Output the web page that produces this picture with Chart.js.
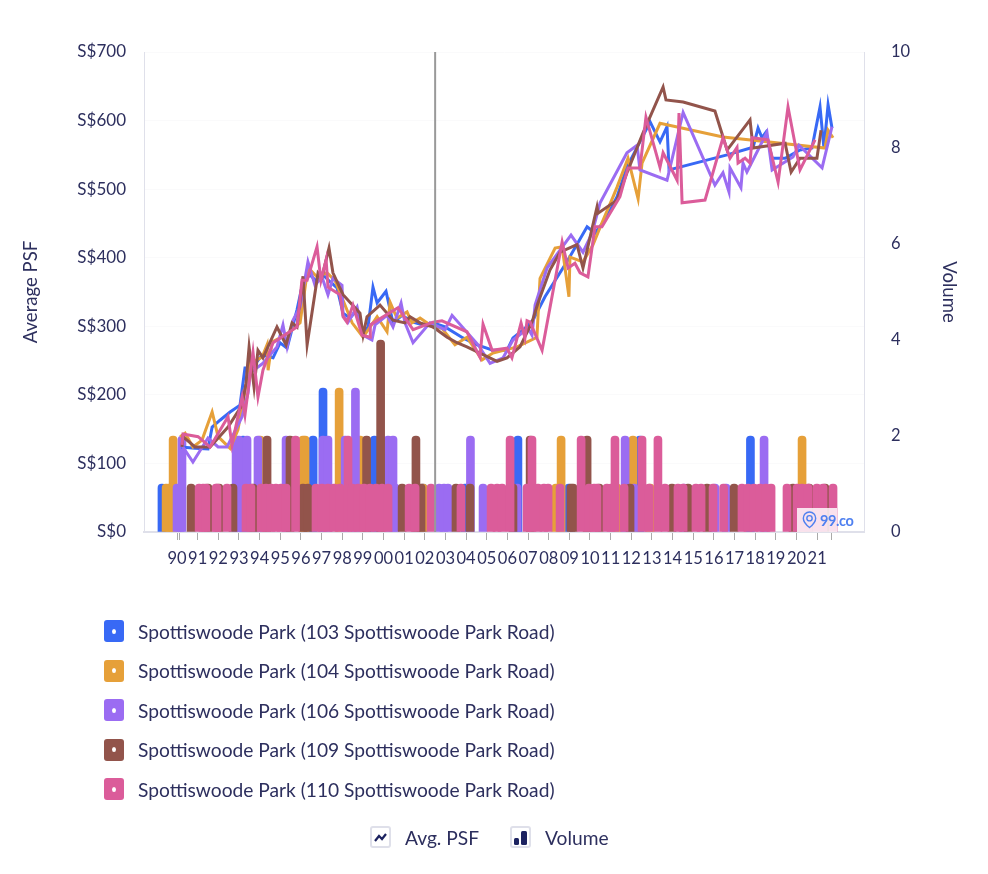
<!DOCTYPE html>
<html>
<head>
<meta charset="utf-8">
<title>Spottiswoode Park</title>
<script src="https://cdn.jsdelivr.net/npm/chart.js@4"></script>
<style>
  html, body { margin: 0; padding: 0; background: #fff; }
  body { width: 988px; height: 874px; position: relative; overflow: hidden; font-family: Lato, sans-serif; color: #2d2f5e; }
  canvas { position: absolute; left: 0; top: 0; }
  .row { position: absolute; left: 104px; height: 22px; display: flex; align-items: center; font-size: 19.2px; white-space: nowrap; }
  .swatch { width: 20px; height: 22px; border-radius: 3px; margin-right: 14px; display: flex; align-items: center; justify-content: center; }
  .swatch i { width: 4px; height: 5px; border-radius: 50%; background: #fff; }
  .toggle { position: absolute; top: 826px; height: 22px; display: flex; align-items: center; font-size: 19.2px; }
  .toggle svg { margin-right: 14px; }
  #mark { position: absolute; left: 797px; top: 508px; width: 40px; height: 24px; background: rgba(255,255,255,.82); display: flex; align-items: center; color: #4f80f0; font-weight: 700; font-size: 14.5px; letter-spacing: -.4px; white-space: nowrap; }
  #mark svg { flex-shrink: 0; margin: 0 3px 0 5px; }
</style>
</head>
<body>
<canvas id="myChart" width="988" height="874"></canvas>
<div id="legend"></div>
<div class="toggle" style="left:370px">
  <svg width="21" height="22" viewBox="0 0 21 22"><rect x="1" y="1" width="19" height="20" rx="2" fill="#fff" stroke="#dfe0ea" stroke-width="2"/><path d="M5 15l4-5 3 3 4-5" fill="none" stroke="#1c2260" stroke-width="2.200"/></svg>
  <span>Avg. PSF</span>
</div>
<div class="toggle" style="left:510px">
  <svg width="21" height="22" viewBox="0 0 21 22"><rect x="1" y="1" width="19" height="20" rx="2" fill="#fff" stroke="#dfe0ea" stroke-width="2"/><rect x="4" y="12" width="5" height="7" rx="1.500" fill="#1c2260"/><rect x="11" y="5" width="6" height="14" rx="1.500" fill="#1c2260"/></svg>
  <span>Volume</span>
</div>
<div id="mark">
  <svg width="15" height="18" viewBox="0 0 17 20"><path d="M8.500 18.500C4 15 1.500 11.500 1.500 8a7 7 0 0 1 14 0c0 3.500-2.500 7-7 10.500z" fill="none" stroke="#4f80f0" stroke-width="1.600"/><circle cx="8.500" cy="8" r="3" fill="none" stroke="#4f80f0" stroke-width="1.600"/></svg>
  <span>99.co</span>
</div>
<script>
const seriesNames = [
   'Spottiswoode Park (103 Spottiswoode Park Road)',
   'Spottiswoode Park (104 Spottiswoode Park Road)',
   'Spottiswoode Park (106 Spottiswoode Park Road)',
   'Spottiswoode Park (109 Spottiswoode Park Road)',
   'Spottiswoode Park (110 Spottiswoode Park Road)'
];

// ticks of the time axis, the two without a label are extra marks the site draws
const tickYears = [1990, 1990.1, 1991, 1992, 1993, 1994, 1995, 1996, 1997, 1998, 1999, 2000, 2001, 2002, 2003, 2004, 2005, 2006, 2007, 2008, 2009, 2010, 2011, 2012, 2013, 2014, 2015, 2016, 2017, 2018, 2019, 2020, 2021, 2021.7];
const tickLabels = ['90', '', '91', '92', '93', '94', '95', '96', '97', '98', '99', '00', '01', '02', '03', '04', '05', '06', '07', '08', '09', '10', '11', '12', '13', '14', '15', '16', '17', '18', '19', '20', '21', ''];

const hoverYear = 2002.5;

// average psf per sale date
const years103 = [1990.19, 1990.87, 1991.50, 1991.70, 1992.08, 1992.57, 1993.05, 1993.29, 1993.63, 1994.12, 1994.65, 1994.99, 1995.33, 1995.81, 1996.10, 1996.44, 1996.78, 1997.07, 1997.41, 1997.75, 1998.04, 1998.38, 1998.72, 1999.01, 1999.25, 1999.49, 1999.69, 2000.12, 2000.46, 2000.90, 2001.43, 2001.91, 2002.40, 2002.98, 2003.85, 2004.53, 2005.30, 2005.98, 2006.27, 2006.85, 2007.24, 2007.82, 2008.94, 2009.86, 2010.24, 2010.73, 2011.31, 2011.79, 2012.28, 2012.91, 2013.39, 2013.73, 2013.83, 2016.64, 2017.90, 2018.14, 2018.33, 2018.52, 2018.82, 2019.45, 2020.17, 2020.75, 2021.14, 2021.33, 2021.53, 2021.72];
const psf103 = [124, 122, 121, 153, 163, 175, 185, 239, 239, 258, 254, 276, 268, 324, 365, 375, 365, 375, 365, 356, 319, 312, 324, 290, 299, 357, 334, 351, 305, 316, 306, 302, 305, 299, 283, 273, 265, 265, 283, 297, 309, 343, 397, 445, 436, 455, 489, 532, 561, 598, 569, 591, 528, 550, 561, 589, 575, 583, 545, 545, 557, 560, 620, 560, 623, 589];

const years104 = [1990.15, 1990.39, 1990.77, 1991.21, 1991.70, 1991.99, 1992.57, 1992.95, 1993.39, 1993.54, 1994.12, 1994.36, 1994.41, 1994.60, 1994.99, 1995.47, 1995.96, 1996.34, 1996.78, 1997.26, 1997.65, 1998.04, 1998.48, 1999.01, 1999.69, 2000.17, 2000.32, 2000.65, 2001.14, 2001.38, 2001.77, 2002.40, 2002.83, 2003.46, 2004.04, 2004.77, 2005.30, 2006.47, 2007.43, 2007.58, 2008.31, 2008.65, 2008.98, 2009.03, 2009.66, 2010.15, 2010.58, 2011.12, 2011.31, 2011.84, 2012.33, 2012.52, 2013.39, 2016.44, 2021.38, 2021.53, 2021.77];
const psf104 = [139, 144, 124, 134, 175, 139, 122, 149, 222, 246, 255, 273, 236, 277, 283, 292, 305, 386, 372, 378, 367, 338, 305, 284, 314, 292, 335, 312, 321, 305, 312, 299, 297, 273, 284, 251, 261, 270, 284, 370, 414, 416, 343, 401, 394, 419, 451, 489, 503, 545, 486, 538, 596, 576, 560, 586, 575];

const years106 = [1990.15, 1990.77, 1991.50, 1991.99, 1992.42, 1993.15, 1993.44, 1993.54, 1994.16, 1994.84, 1995.13, 1995.33, 1995.62, 1995.96, 1996.34, 1996.68, 1997.02, 1997.31, 1997.55, 1997.99, 1998.04, 1998.28, 1998.72, 1999.01, 1999.44, 1999.59, 2000.17, 2000.46, 2000.85, 2001.04, 2001.43, 2002.25, 2002.98, 2003.32, 2004.58, 2005.16, 2005.79, 2006.27, 2007.00, 2007.19, 2007.34, 2007.92, 2008.45, 2009.08, 2009.66, 2010.10, 2010.49, 2011.79, 2012.28, 2012.42, 2013.73, 2014.51, 2016.05, 2016.44, 2016.73, 2016.78, 2017.31, 2017.41, 2017.60, 2018.57, 2018.82, 2019.83, 2020.12, 2021.24, 2021.72];
const psf106 = [130, 102, 137, 124, 124, 168, 203, 232, 246, 270, 302, 270, 309, 328, 394, 360, 372, 346, 370, 360, 316, 306, 328, 287, 280, 302, 316, 299, 334, 305, 276, 305, 295, 316, 273, 246, 254, 280, 297, 287, 331, 385, 407, 433, 408, 436, 480, 553, 564, 528, 513, 612, 506, 524, 496, 531, 502, 538, 525, 583, 528, 547, 564, 531, 591];

const years109 = [1990.24, 1990.29, 1990.87, 1991.60, 1992.47, 1993.15, 1993.34, 1993.49, 1993.73, 1993.92, 1994.16, 1994.84, 1995.28, 1995.57, 1995.81, 1996.10, 1996.30, 1996.83, 1997.02, 1997.36, 1997.55, 1998.04, 1998.86, 1999.01, 1999.20, 1999.83, 2000.46, 2001.04, 2001.28, 2001.77, 2002.40, 2003.08, 2003.56, 2004.04, 2004.67, 2005.50, 2005.98, 2006.61, 2007.19, 2007.48, 2008.06, 2008.55, 2009.37, 2009.66, 2010.34, 2010.39, 2011.31, 2011.79, 2012.57, 2013.54, 2013.68, 2014.51, 2016.05, 2016.64, 2017.75, 2017.90, 2019.45, 2019.74, 2020.17, 2020.99, 2021.19];
const psf109 = [124, 139, 124, 124, 153, 185, 217, 270, 211, 265, 254, 299, 273, 305, 299, 373, 273, 378, 372, 414, 378, 346, 319, 287, 314, 331, 309, 305, 314, 305, 299, 284, 276, 270, 261, 249, 254, 270, 306, 334, 382, 408, 419, 385, 474, 465, 484, 524, 582, 649, 630, 627, 614, 557, 601, 560, 567, 525, 545, 545, 586];

const years110 = [1990.24, 1990.29, 1991.02, 1991.60, 1992.47, 1992.66, 1993.15, 1993.29, 1993.68, 1993.92, 1994.16, 1994.65, 1995.81, 1996.05, 1996.30, 1996.78, 1996.97, 1997.22, 1997.31, 1997.89, 1998.04, 1998.23, 1998.52, 1998.96, 1999.35, 1999.36, 1999.98, 2000.70, 2001.43, 2002.40, 2002.83, 2004.04, 2004.67, 2004.82, 2005.26, 2005.98, 2006.22, 2006.66, 2006.85, 2006.95, 2007.10, 2007.68, 2008.65, 2008.94, 2009.27, 2009.52, 2009.90, 2010.24, 2010.58, 2011.45, 2011.84, 2012.42, 2012.71, 2013.39, 2013.54, 2014.22, 2014.31, 2014.46, 2015.57, 2016.44, 2016.78, 2017.12, 2017.17, 2017.51, 2017.75, 2017.85, 2018.62, 2019.11, 2019.59, 2020.17, 2020.90];
const psf110 = [127, 143, 139, 124, 168, 127, 197, 171, 262, 197, 236, 276, 299, 367, 367, 416, 367, 397, 357, 346, 314, 306, 331, 287, 284, 302, 314, 327, 295, 306, 308, 292, 255, 303, 265, 268, 254, 305, 283, 308, 306, 265, 423, 385, 392, 378, 372, 445, 445, 489, 531, 531, 605, 532, 553, 513, 611, 480, 484, 575, 545, 561, 538, 545, 538, 575, 572, 510, 620, 528, 572];

// units sold per sale date
const barYears103 = [1989.27, 1993.20, 1996.59, 1997.07, 1999.56, 2001.91, 2003.95, 2006.51, 2008.98, 2012.42, 2017.77];
const volume103 = [1, 2, 2, 3, 2, 1, 1, 2, 1, 2, 2];

const barYears104 = [1989.47, 1989.61, 1989.81, 1994.02, 1996.10, 1996.20, 1997.85, 1998.86, 2001.91, 2008.35, 2008.60, 2011.31, 2012.08, 2012.91, 2020.27];
const volume104 = [1, 1, 2, 2, 2, 2, 3, 2, 1, 1, 2, 1, 2, 1, 2];

const barYears106 = [1990.00, 1990.15, 1990.24, 1992.86, 1993.00, 1993.39, 1993.92, 1995.28, 1997.07, 1997.31, 1998.14, 1998.64, 2000.22, 2000.46, 2000.56, 2002.69, 2002.93, 2003.12, 2004.21, 2004.82, 2006.47, 2011.70, 2012.13, 2014.55, 2016.05, 2016.59, 2018.43];
const volume106 = [1, 1, 2, 2, 2, 2, 2, 2, 2, 2, 2, 3, 2, 2, 1, 1, 1, 1, 2, 1, 1, 2, 1, 1, 1, 1, 2];

const barYears109 = [1990.68, 1991.50, 1992.03, 1992.71, 1993.68, 1994.36, 1995.47, 1996.10, 1996.34, 1999.18, 1999.86, 2000.90, 2001.57, 2001.82, 2003.51, 2004.19, 2006.27, 2007.10, 2009.08, 2009.18, 2009.86, 2010.44, 2011.94, 2013.97, 2014.75, 2015.67, 2016.98, 2019.83, 2020.61, 2021.38];
const volume109 = [1, 1, 1, 1, 1, 2, 2, 1, 1, 2, 4, 1, 2, 1, 1, 1, 1, 2, 1, 1, 2, 1, 1, 1, 1, 1, 1, 1, 1, 1];

const barYears110 = [1991.07, 1991.26, 1991.40, 1991.89, 1991.94, 1992.42, 1993.34, 1993.58, 1994.07, 1994.31, 1994.55, 1994.79, 1995.04, 1995.28, 1995.74, 1996.73, 1997.02, 1997.31, 1997.60, 1997.89, 1998.28, 1998.48, 1998.77, 1999.06, 1999.35, 1999.64, 1999.93, 2000.22, 2001.24, 2001.53, 2002.30, 2003.75, 2005.21, 2005.50, 2005.74, 2006.13, 2006.95, 2007.19, 2007.48, 2007.77, 2007.97, 2008.55, 2009.57, 2009.95, 2010.20, 2010.34, 2010.82, 2011.02, 2011.21, 2011.65, 2012.52, 2012.86, 2013.29, 2013.63, 2014.26, 2014.51, 2015.13, 2015.38, 2015.96, 2016.47, 2017.36, 2017.65, 2017.94, 2018.23, 2018.52, 2018.77, 2019.54, 2020.03, 2020.27, 2020.56, 2020.99, 2021.29, 2021.77];
const volume110 = [1, 1, 1, 1, 1, 1, 1, 1, 1, 1, 1, 1, 1, 1, 2, 1, 1, 1, 1, 1, 2, 1, 1, 1, 1, 1, 1, 1, 1, 1, 1, 1, 1, 1, 1, 2, 1, 2, 1, 1, 1, 1, 2, 1, 1, 1, 1, 1, 2, 1, 2, 1, 2, 1, 1, 1, 1, 1, 1, 1, 1, 1, 1, 1, 1, 1, 1, 1, 1, 1, 1, 1, 1];

const colors = ['#3869f5', '#e6a039', '#9b6cf2', '#92544b', '#db5c9a'];
const lineYears = [years103, years104, years106, years109, years110];
const linePsf = [psf103, psf104, psf106, psf109, psf110];
const barYears = [barYears103, barYears104, barYears106, barYears109, barYears110];
const barVolumes = [volume103, volume104, volume106, volume109, volume110];

const navy = '#2d2f5e';
const labelFont = {family: 'Lato', size: 16.5};
const titleFont = {family: 'Lato', size: 18.6};

function zip(xs, ys) {
   return xs.map((x, i) => ({x: x, y: ys[i]}));
}

// lower order is painted later, so 110 ends up on top and lines over bars
const datasets = [];
seriesNames.forEach((name, i) => {
   datasets.push({
      type: 'line',
      label: name,
      data: zip(lineYears[i], linePsf[i]),
      yAxisID: 'psf',
      borderColor: colors[i],
      borderWidth: 3,
      pointRadius: 0,
      tension: 0,
      order: 5 - i
   });
});
seriesNames.forEach((name, i) => {
   datasets.push({
      type: 'bar',
      label: name,
      data: zip(barYears[i], barVolumes[i]),
      yAxisID: 'volume',
      backgroundColor: colors[i],
      barThickness: 8,
      grouped: false,
      borderRadius: {topLeft: 4, topRight: 4, bottomLeft: 0, bottomRight: 0},
      borderSkipped: false,
      order: 10 - i
   });
});

// the grey hover line the site leaves on the chart
const hoverLine = {
   id: 'hoverLine',
   afterDatasetsDraw(chart) {
      const ctx = chart.ctx;
      const x = chart.scales.x.getPixelForValue(hoverYear);
      ctx.save();
      ctx.strokeStyle = '#999';
      ctx.lineWidth = 2;
      ctx.beginPath();
      ctx.moveTo(x, chart.chartArea.top);
      ctx.lineTo(x, chart.chartArea.bottom);
      ctx.stroke();
      ctx.restore();
   }
};

new Chart(document.getElementById('myChart'), {
   type: 'bar',
   data: {datasets: datasets},
   plugins: [hoverLine],
   options: {
      responsive: false,
      animation: false,
      layout: {padding: {top: 52}},
      plugins: {legend: {display: false}, tooltip: {enabled: false}},
      scales: {
         x: {
            type: 'linear',
            offset: false,
            min: 1988.4,
            max: 2023.27,
            afterFit: scale => { scale.height = 342; },
            afterBuildTicks: scale => { scale.ticks = tickYears.map(y => ({value: y})); },
            grid: {offset: false, drawOnChartArea: false, tickColor: '#aaa', tickLength: 8},
            border: {color: '#dfe0ea', width: 2},
            ticks: {
               autoSkip: false,
               maxRotation: 0,
               padding: 9,
               color: navy,
               font: labelFont,
               callback: value => tickLabels[tickYears.indexOf(value)]
            }
         },
         psf: {
            position: 'left',
            min: 0,
            max: 700,
            afterFit: scale => { scale.width = 144; },
            grid: {color: '#fafafb', drawTicks: false},
            border: {color: '#dfe0ea', width: 1},
            title: {display: true, text: 'Average PSF', color: navy, font: titleFont, padding: {top: 20, bottom: 0}},
            ticks: {stepSize: 100, padding: 18, color: navy, font: {family: 'Lato', size: 17}, callback: value => 'S$' + value}
         },
         volume: {
            position: 'right',
            min: 0,
            max: 10,
            afterFit: scale => { scale.width = 124; },
            grid: {drawOnChartArea: false, drawTicks: false},
            border: {color: '#dfe0ea', width: 1},
            title: {display: true, text: 'Volume', color: navy, font: titleFont, padding: {top: 28, bottom: 0}},
            ticks: {stepSize: 2, padding: 27, color: navy, font: labelFont}
         }
      }
   }
});

// legend rows under the chart
const legend = document.getElementById('legend');
seriesNames.forEach((name, i) => {
   const row = document.createElement('div');
   row.className = 'row';
   row.style.top = (620 + i * 39.5) + 'px';
   row.innerHTML = '<div class="swatch" style="background:' + colors[i] + '"><i></i></div><span>' + name + '</span>';
   legend.appendChild(row);
});
</script>
</body>
</html>
